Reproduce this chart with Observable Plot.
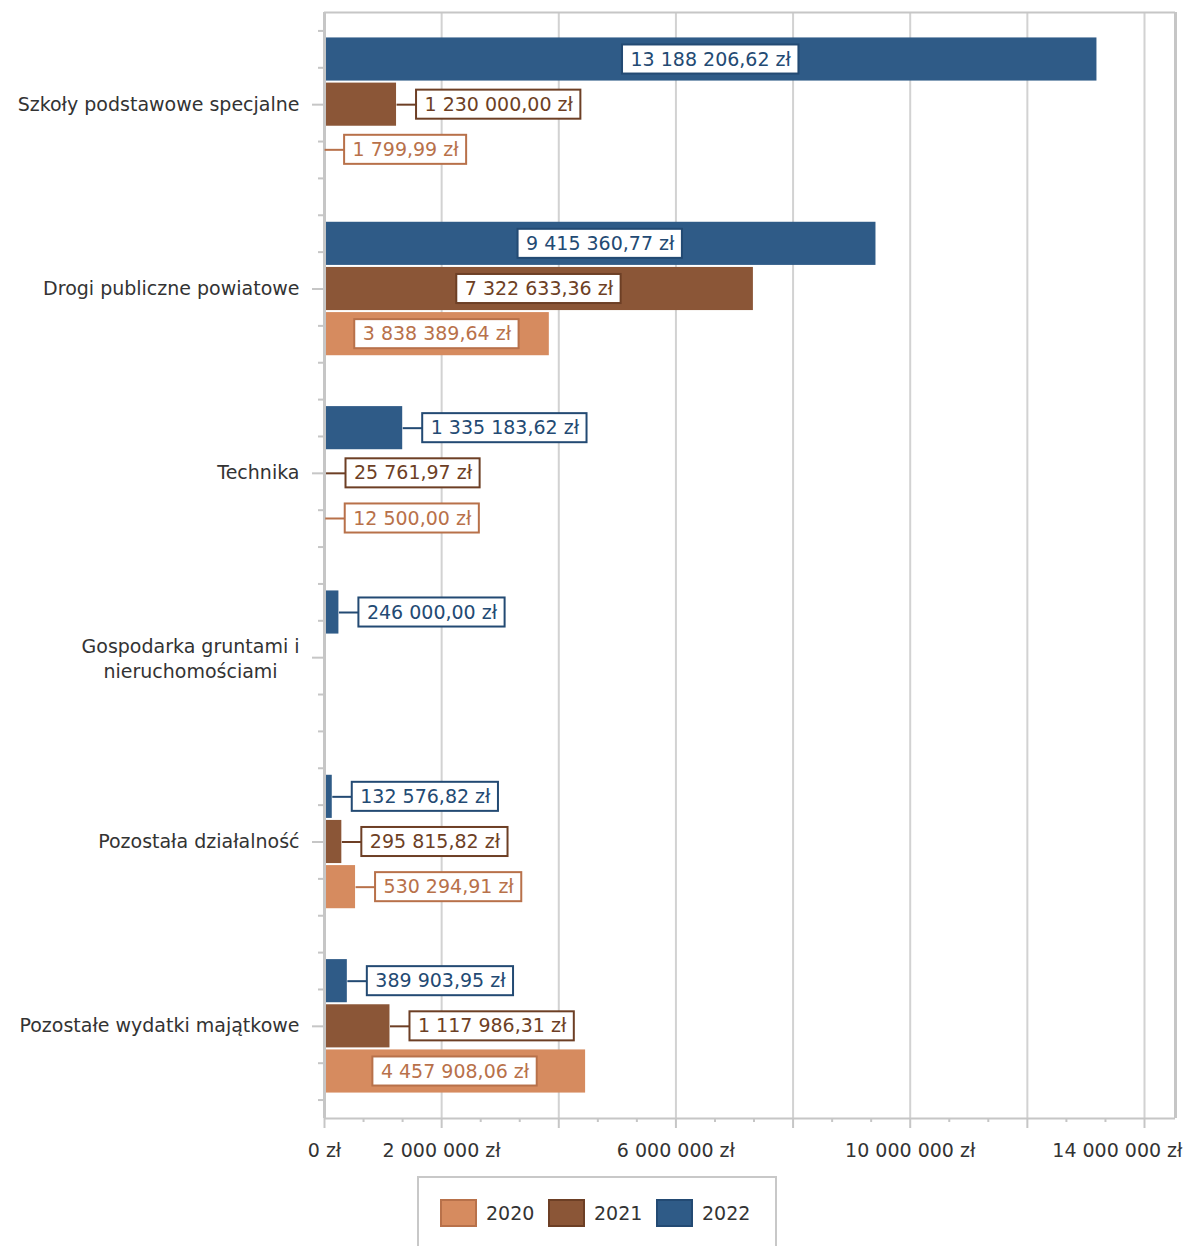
<!DOCTYPE html>
<html><head><meta charset="utf-8">
<script src="https://cdn.jsdelivr.net/npm/d3@7"></script>
<script src="https://cdn.jsdelivr.net/npm/@observablehq/plot@0.6"></script>
<style>
html,body{margin:0;padding:0;background:#fff;overflow:hidden;}
body{font-family:"DejaVu Sans",Verdana,sans-serif;color:#333;}
svg{display:block;}
#legend{box-sizing:border-box;margin-left:417px;width:360px;height:90px;border:2px solid #c8c8c8;border-bottom:none;padding:21px 0 0 21px;display:flex;}
.item{width:108px;display:flex;align-items:center;height:28px;font-size:19px;color:#333;}
.sw{box-sizing:border-box;width:37px;height:28px;border:2px solid;margin-right:9px;}
</style></head><body>
<div id="chart"></div>
<div id="legend"></div>
<script>
// ---- data ----
const categories = [
  "Szkoły podstawowe specjalne",
  "Drogi publiczne powiatowe",
  "Technika",
  "Gospodarka gruntami i\nnieruchomościami",
  "Pozostała działalność",
  "Pozostałe wydatki majątkowe"
];
const years = ["2020", "2021", "2022"];
const values2020 = [1799.99, 3838389.64, 12500.00, null, 530294.91, 4457908.06];
const values2021 = [1230000.00, 7322633.36, 25761.97, null, 295815.82, 1117986.31];
const values2022 = [13188206.62, 9415360.77, 1335183.62, 246000.00, 132576.82, 389903.95];
const xTicks = [0, 2000000, 4000000, 6000000, 8000000, 10000000, 12000000, 14000000];
const xTickLabels = [0, 2000000, 6000000, 10000000];
const xLastLabel = [14000000];

// ---- styles / layout ----
const fills = {"2020": "#D68B5F", "2021": "#8B5637", "2022": "#2F5B87"};
const strokes = {"2020": "#B8714A", "2021": "#6D3F25", "2022": "#234A73"};
const yOffset = {"2022": -0.245, "2021": 0, "2020": 0.245};
const W = 1187, H = 1176, mL = 324, mR = 12, mT = 12, mB = 58;
const xMax = 14000000 * (1175 - 324) / (1144 - 324);
const barHalf = 0.117, boxHalf = 14.5 / 184;
const FONT = 19;

const loc = d3.formatLocale({decimal: ",", thousands: " ", grouping: [3], currency: ["", ""]});
const fmt2 = loc.format(",.2f"), fmt0 = loc.format(",.0f");
const fmtValue = v => fmt2(v) + " zł";
const fmtAxis = v => fmt0(v) + " zł";

const valuesByYear = {"2020": values2020, "2021": values2021, "2022": values2022};
const rows = [];
categories.forEach((c, i) => {
  years.forEach(y => {
    const v = valuesByYear[y][i];
    if (v == null) return;
    rows.push({cat: i, year: y, value: v, yc: i + yOffset[y]});
  });
});

const xs = Plot.scale({x: {domain: [0, xMax], range: [mL, W - mR]}});
const ctx = document.createElement("canvas").getContext("2d");
ctx.font = `${FONT}px "DejaVu Sans"`;
const leaders = [];
rows.forEach(d => {
  d.label = fmtValue(d.value);
  const w = ctx.measureText(d.label).width + 16;
  const end = xs.apply(d.value);
  const barPx = end - mL;
  if (barPx > w + 6) {
    const cx = mL + barPx / 2;
    d.bx1 = xs.invert(cx - w / 2); d.bx2 = xs.invert(cx + w / 2); d.tx = xs.invert(cx);
  } else {
    const s = end + 20;
    d.bx1 = xs.invert(s); d.bx2 = xs.invert(s + w); d.tx = xs.invert(s + w / 2);
    leaders.push({x1: d.value, x2: d.bx1, y: d.yc, year: d.year});
  }
});

const yMinor = [];
categories.forEach((c, i) => [-0.4, -0.2, 0.2, 0.4].forEach(o => yMinor.push(i + o)));
const xMinor = d3.range(0, 21 + 1).map(k => k * 2000000 / 3).filter((v, k) => k % 3 !== 0 && v <= xMax);

const gridColor = "#d2d2d2", axisColor = "#c6c6c6", textColor = "#333";

const plot = Plot.plot({
  width: W, height: H,
  marginLeft: mL, marginRight: mR, marginTop: mT, marginBottom: mB,
  style: {fontFamily: '"DejaVu Sans", Verdana, sans-serif', fontSize: FONT + "px", color: textColor, background: "#fff"},
  x: {domain: [0, xMax]},
  y: {domain: [-0.5, 5.5], reverse: true},
  marks: [
    Plot.ruleX(xTicks.filter(v => v > 0), {stroke: gridColor, strokeWidth: 2}),
    Plot.rect(rows, {x1: d => 0, x2: "value", y1: d => d.yc - barHalf, y2: d => d.yc + barHalf, fill: d => fills[d.year]}),
    Plot.ruleY([-0.5], {stroke: axisColor, strokeWidth: 2}),
    Plot.ruleY([5.5], {stroke: axisColor, strokeWidth: 2}),
    Plot.ruleX([xMax], {stroke: axisColor, strokeWidth: 3}),
    Plot.ruleX([0], {stroke: axisColor, strokeWidth: 3}),
    Plot.axisY(yMinor, {tickSize: 6, tickFormat: () => "", stroke: axisColor, strokeWidth: 2}),
    Plot.axisY(d3.range(categories.length), {tickSize: 12, tickPadding: 13, stroke: axisColor, strokeWidth: 2, fill: textColor,
      tickFormat: i => categories[i].includes("\n") ? "" : categories[i]}),
    Plot.axisY([3], {tickSize: 0, tickPadding: 134, textAnchor: "middle", lineHeight: 1.3, fill: textColor,
      tickFormat: i => categories[i]}),
    Plot.axisX(xMinor, {tickSize: 4, tickFormat: () => "", stroke: axisColor, strokeWidth: 2}),
    Plot.axisX(xTicks, {tickSize: 10, tickPadding: 15, stroke: axisColor, strokeWidth: 2, fill: textColor,
      tickFormat: v => xTickLabels.includes(v) ? fmtAxis(v) : ""}),
    Plot.axisX(xLastLabel, {tickSize: 0, tickPadding: 25, textAnchor: "end", dx: 38, fill: textColor, tickFormat: fmtAxis}),
    Plot.link(leaders, {x1: "x1", x2: "x2", y1: "y", y2: "y", stroke: d => strokes[d.year], strokeWidth: 2}),
    Plot.rect(rows, {x1: "bx1", x2: "bx2", y1: d => d.yc - boxHalf, y2: d => d.yc + boxHalf, fill: "white", stroke: d => strokes[d.year], strokeWidth: 2}),
    Plot.text(rows, {x: "tx", y: "yc", text: "label", fill: d => strokes[d.year], fontSize: FONT})
  ]
});
document.getElementById("chart").appendChild(plot);

const legend = document.getElementById("legend");
years.forEach(y => {
  const it = document.createElement("div");
  it.className = "item";
  const sw = document.createElement("div");
  sw.className = "sw";
  sw.style.background = fills[y];
  sw.style.borderColor = strokes[y];
  it.appendChild(sw);
  const t = document.createElement("span");
  t.textContent = y;
  it.appendChild(t);
  legend.appendChild(it);
});
</script>
</body></html>
